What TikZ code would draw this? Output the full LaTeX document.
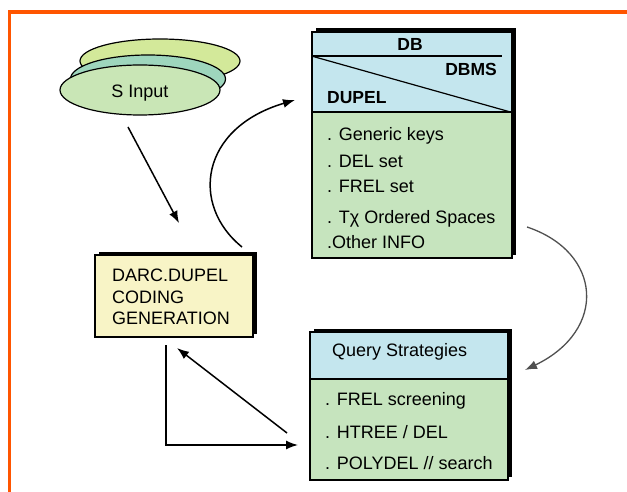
\documentclass[tikz,border=0pt]{standalone}
\usepackage{fontspec}
\setmainfont{Liberation Sans}
\usetikzlibrary{arrows.meta,shapes.geometric,shadows}
\definecolor{frameorange}{HTML}{FF5500}
\definecolor{hdrblue}{HTML}{C4E6EE}
\definecolor{bodygreen}{HTML}{C6E4BE}
\definecolor{paleyellow}{HTML}{F8F4C6}
\definecolor{ellback}{HTML}{D3E99A}
\definecolor{ellmid}{HTML}{9ED6BD}
\definecolor{ellfront}{HTML}{C9E6B6}
\definecolor{arrowgray}{HTML}{505050}
\begin{document}
\begin{tikzpicture}[x=1pt,y=-1pt,
  txt/.style={inner sep=0pt, font=\fontsize{18}{21}\selectfont},
  btxt/.style={inner sep=0pt, font=\fontsize{17.5}{21}\selectfont\bfseries},
  shadowed/.style={drop shadow={shadow xshift=3.5pt, shadow yshift=3.5pt, opacity=1, fill=black}},
  box/.style={draw=black, line width=1.2pt, inner sep=0pt, rectangle, shadowed},
  ell/.style={draw=black, line width=1.2pt, ellipse, inner sep=0pt},
  arr/.style={line width=1.5pt, -{Latex[length=12pt,width=9pt]}},
  garr/.style={arr, draw=arrowgray, line width=1.3pt}
]
\useasboundingbox (0,0) rectangle (627,492);
% frame
\draw[frameorange, line width=3.5pt] (9.5,492) -- (9.5,12) -- (627,12);

% stacked ellipses
\node[ell, fill=ellback, minimum width=160pt, minimum height=44pt] (eback) at (160,61) {};
\node[ell, fill=ellmid, minimum width=155pt, minimum height=48pt] (emid) at (148,79) {};
\node[ell, fill=ellfront, minimum width=160pt, minimum height=50pt] (sin) at (140,90) {};
\node[txt, anchor=base] (sintext) at (140,98) {S Input};

% DB box
\node[box, fill=bodygreen, minimum width=200pt, minimum height=146pt] (dbbody) at (412,185) {};
\node[box, fill=hdrblue, minimum width=200pt, minimum height=80pt] (dbhead) at (412,72) {};
\draw[line width=1.2pt] (dbhead.west |- 0,56) coordinate (hl) -- (502,56) coordinate (hr);
\draw[line width=1.2pt] (hl) -- (dbhead.south east);
\node[btxt, anchor=base] (tdb) at (410,51) {DB};
\node[btxt, anchor=base east] (tdbms) at (497,76) {DBMS};
\node[btxt, anchor=base west] (tdupel) at (327,104) {DUPEL};
\node[txt, anchor=base west] (t1) at (327,141) {. Generic keys};
\node[txt, anchor=base west] (t2) at (327,168) {. DEL set};
\node[txt, anchor=base west] (t3) at (327,193) {. FREL set};
\node[txt, anchor=base west] (t4) at (327,223) {. Tχ Ordered Spaces};
\node[txt, anchor=base west] (t5) at (327,248) {.Other INFO};

% DARC box
\node[box, fill=paleyellow, minimum width=158pt, minimum height=82pt] (darc) at (174,296) {};
\node[txt, anchor=base west] (d1) at (112,281) {DARC.DUPEL};
\node[txt, anchor=base west] (d2) at (112,303) {CODING};
\node[txt, anchor=base west] (d3) at (112,324) {GENERATION};

% Query box
\node[box, fill=bodygreen, minimum width=198pt, minimum height=101pt] (qbody) at (409,429.5) {};
\node[box, fill=hdrblue, minimum width=198pt, minimum height=47pt] (qhead) at (409,355.5) {};
\node[txt, anchor=base west] (q0) at (332,356) {Query Strategies};
\node[txt, anchor=base west] (q1) at (325,405) {. FREL screening};
\node[txt, anchor=base west] (q2) at (325,438) {. HTREE / DEL};
\node[txt, anchor=base west] (q3) at (325,469) {. POLYDEL // search};

% connectors
\coordinate (a1s) at (128,127);
\coordinate (a1e) at (179,223);
\draw[arr] (a1s) -- (a1e);

\coordinate (c1s) at (242,247);
\coordinate (c1e) at (295,100);
\draw[arr] (c1s) .. controls (190,205) and (200,128) .. (c1e);

\coordinate (c2s) at (527,227);
\coordinate (c2e) at (525,370);
\draw[garr] (c2s) .. controls (602,252) and (608,330) .. (c2e);

\coordinate (d1s) at (287,433);
\coordinate (d1e) at (177,348);
\draw[arr] (d1s) -- (d1e);

\coordinate (e1s) at (166,345);
\coordinate (e1e) at (298,445);
\draw[arr] (e1s) |- (e1e);
\end{tikzpicture}
\end{document}
